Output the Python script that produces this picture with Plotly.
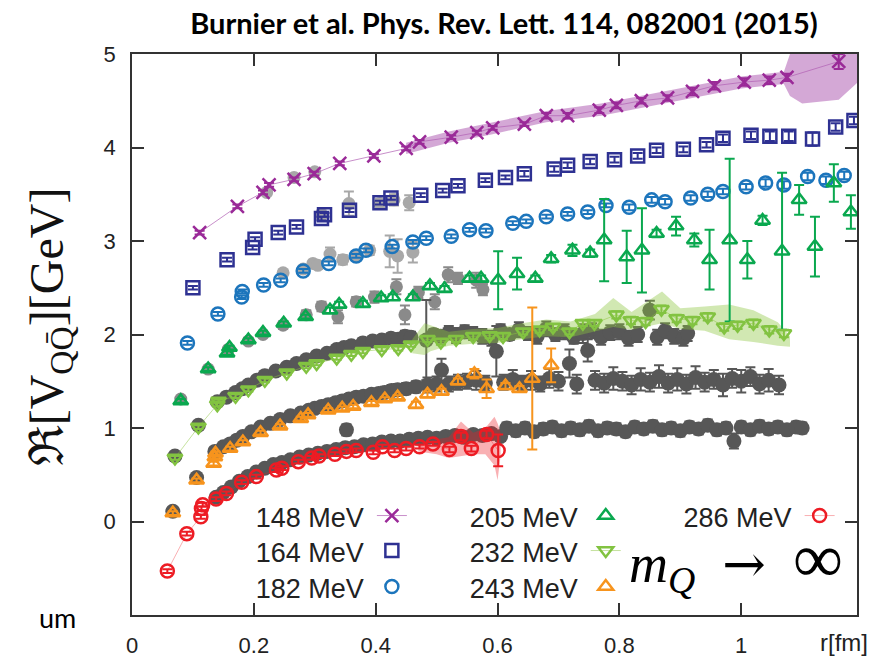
import plotly.graph_objects as go

# ---------------- data ----------------
labels = ["148 MeV", "164 MeV", "182 MeV", "205 MeV", "232 MeV", "243 MeV", "286 MeV"]

r148 = [0.111,0.173,0.215,0.225,0.266,0.299,0.341,0.397,0.450,0.472,0.524,0.566,0.592,0.644,0.680,0.715,0.767,0.795,0.836,0.879,0.920,0.956,1.005,1.046,1.075,1.160]
v148 = [3.09,3.37,3.52,3.60,3.66,3.72,3.83,3.91,3.99,4.06,4.11,4.16,4.21,4.25,4.34,4.34,4.40,4.45,4.50,4.53,4.60,4.66,4.70,4.72,4.75,4.92]
e148 = [0.02,0.02,0.02,0.02,0.02,0.02,0.02,0.02,0.02,0.02,0.02,0.02,0.02,0.02,0.03,0.03,0.03,0.03,0.03,0.03,0.04,0.04,0.04,0.04,0.04,0.08]

r164 = [0.100,0.156,0.198,0.202,0.240,0.270,0.311,0.316,0.357,0.407,0.425,0.474,0.510,0.535,0.580,0.613,0.644,0.693,0.715,0.752,0.792,0.830,0.861,0.905,0.943,0.970,1.016,1.047,1.078,1.117,1.155,1.185]
v164 = [2.50,2.80,2.93,3.02,3.09,3.15,3.24,3.28,3.33,3.41,3.46,3.49,3.54,3.59,3.65,3.68,3.72,3.77,3.81,3.85,3.87,3.91,3.97,3.98,4.03,4.10,4.13,4.12,4.12,4.09,4.22,4.29]
e164 = [0.02,0.02,0.02,0.02,0.02,0.02,0.02,0.02,0.02,0.02,0.02,0.02,0.02,0.02,0.02,0.02,0.03,0.03,0.03,0.03,0.03,0.03,0.03,0.03,0.03,0.04,0.04,0.05,0.05,0.07,0.04,0.04]

r182 = [0.091,0.141,0.180,0.181,0.216,0.244,0.281,0.323,0.368,0.384,0.427,0.461,0.483,0.524,0.554,0.581,0.625,0.647,0.680,0.715,0.748,0.778,0.816,0.853,0.875,0.917,0.945,0.970,1.008,1.040,1.070,1.109,1.139,1.169]
v182 = [1.91,2.22,2.40,2.46,2.53,2.58,2.68,2.76,2.84,2.90,2.94,2.99,3.03,3.05,3.12,3.11,3.19,3.21,3.26,3.29,3.31,3.38,3.36,3.44,3.42,3.46,3.50,3.53,3.58,3.62,3.60,3.69,3.65,3.70]
e182 = [0.02,0.02,0.02,0.02,0.02,0.02,0.02,0.02,0.02,0.02,0.02,0.02,0.02,0.02,0.02,0.02,0.02,0.02,0.02,0.02,0.02,0.02,0.03,0.03,0.03,0.03,0.03,0.03,0.03,0.04,0.04,0.04,0.04,0.04]

r205 = [0.080,0.125,0.156,0.160,0.191,0.215,0.249,0.285,0.325,0.340,0.379,0.409,0.428,0.461,0.489,0.513,0.554,0.573,0.601,0.632,0.662,0.688,0.723,0.752,0.775,0.812,0.837,0.861,0.893,0.923,0.948,0.981,1.010,1.035,1.067,1.095,1.121,1.152,1.180]
v205 = [1.29,1.63,1.80,1.86,1.94,2.02,2.12,2.19,2.26,2.32,2.33,2.39,2.40,2.40,2.52,2.49,2.60,2.60,2.58,2.65,2.60,2.81,2.90,2.87,3.01,2.83,2.90,3.08,3.16,3.01,2.80,3.01,2.80,3.22,2.89,3.44,2.94,3.62,3.31]
e205 = [0.02,0.02,0.02,0.02,0.02,0.02,0.02,0.02,0.03,0.03,0.03,0.03,0.03,0.03,0.03,0.03,0.03,0.03,0.31,0.17,0.03,0.04,0.06,0.04,0.44,0.28,0.45,0.04,0.10,0.07,0.32,0.87,0.20,0.05,0.84,0.16,0.32,0.20,0.18]

r232 = [0.0705,0.109,0.140,0.142,0.170,0.191,0.218,0.254,0.286,0.303,0.336,0.360,0.379,0.410,0.437,0.458,0.485,0.507,0.532,0.560,0.587,0.609,0.642,0.669,0.691,0.718,0.740,0.759,0.795,0.819,0.843,0.869,0.894,0.920,0.945,0.972,0.994,1.020,1.046,1.070]
v232 = [0.68,1.01,1.25,1.29,1.34,1.41,1.51,1.59,1.66,1.69,1.75,1.79,1.82,1.84,1.85,1.89,1.95,1.92,1.95,1.98,1.99,1.98,2.03,2.05,2.08,2.03,2.12,2.12,2.21,2.15,2.14,2.27,2.17,2.15,2.19,2.08,2.10,2.12,2.05,2.01]
e232 = [0.02,0.02,0.02,0.02,0.02,0.02,0.02,0.02,0.02,0.02,0.02,0.02,0.02,0.02,0.02,0.02,0.03,0.03,0.03,0.03,0.03,0.03,0.03,0.03,0.03,0.03,0.03,0.03,0.04,0.04,0.04,0.04,0.04,0.04,0.04,0.04,0.04,0.04,0.04,0.04]

r243 = [0.067,0.106,0.134,0.136,0.137,0.161,0.182,0.211,0.243,0.277,0.289,0.322,0.345,0.363,0.393,0.415,0.436,0.466,0.485,0.508,0.535,0.562,0.582,0.613,0.636,0.657,0.688]
v243 = [0.09,0.44,0.62,0.69,0.73,0.78,0.85,0.95,1.02,1.10,1.14,1.19,1.21,1.23,1.27,1.31,1.33,1.25,1.36,1.39,1.50,1.58,1.42,1.45,1.42,1.53,1.67]
e243 = [0.02,0.02,0.02,0.02,0.02,0.02,0.02,0.02,0.02,0.02,0.02,0.02,0.02,0.02,0.02,0.02,0.02,0.03,0.03,0.03,0.03,0.05,0.10,0.03,0.03,0.76,0.18]

r286 = [0.058,0.090,0.113,0.114,0.116,0.138,0.155,0.180,0.204,0.237,0.246,0.273,0.295,0.307,0.333,0.352,0.368,0.396,0.411,0.431,0.450,0.472,0.494,0.521,0.540,0.557,0.582,0.601]
v286 = [-0.53,-0.13,0.05,0.14,0.18,0.24,0.30,0.42,0.48,0.55,0.57,0.64,0.68,0.70,0.72,0.75,0.76,0.74,0.80,0.76,0.78,0.80,0.83,0.77,0.91,0.78,0.93,0.76]
e286 = [0.02,0.02,0.02,0.02,0.02,0.02,0.02,0.02,0.02,0.02,0.02,0.02,0.02,0.02,0.02,0.02,0.02,0.02,0.02,0.02,0.02,0.02,0.02,0.03,0.04,0.03,0.04,0.17]

# uncertainty bands
b148_r  = [0.45,0.52,0.59,0.68,0.77,0.84,0.92,1.00,1.07,1.08,1.10,1.16,1.19]
b148_lo = [3.93,4.05,4.14,4.27,4.34,4.43,4.53,4.63,4.68,4.55,4.47,4.51,4.69]
b148_hi = [4.05,4.17,4.27,4.39,4.47,4.56,4.66,4.76,4.81,5.00,5.05,5.05,5.05]

b232_r  = [0.46,0.48,0.49,0.52,0.56,0.60,0.64,0.68,0.72,0.76,0.79,0.82,0.87,0.90,0.94,0.98,1.02,1.06,1.08]
b232_lo = [1.80,1.78,1.82,1.88,1.90,1.91,1.95,1.98,1.97,2.03,2.08,2.05,2.12,2.06,2.04,1.95,1.92,1.88,1.87]
b232_hi = [1.95,2.12,2.10,2.03,2.06,2.07,2.12,2.16,2.14,2.22,2.39,2.24,2.46,2.28,2.30,2.32,2.26,2.13,1.98]

b286_r  = [0.47,0.50,0.52,0.54,0.56,0.58,0.595,0.60,0.605]
b286_lo = [0.75,0.72,0.68,0.70,0.72,0.72,0.60,0.44,0.70]
b286_hi = [0.84,0.88,0.90,1.07,0.95,1.00,1.12,1.05,0.95]

# grey comparison data
gA_r = [0.221,0.266,0.300,0.311,0.356,0.407,0.430,0.455]
gA_v = [3.52,3.68,3.74,3.28,3.40,3.40,3.44,3.41]
gA_e = [0.03,0.03,0.03,0.05,0.13,0.05,0.06,0.08]

gB_r = [0.248,0.281,0.297,0.305,0.325,0.346,0.368,0.390,0.423,0.436,0.461]
gB_v = [2.66,2.70,2.76,2.74,2.86,2.80,2.84,2.90,2.89,2.84,2.88]
gB_e = [0.03,0.03,0.03,0.04,0.07,0.05,0.05,0.05,0.17,0.18,0.11]

gC_r = [0.080,0.125,0.158,0.191,0.215,0.248,0.286,0.311,0.338,0.368,0.398,0.434,0.448,0.470,0.497,0.519,0.535,0.565,0.576]
gC_v = [1.31,1.63,1.84,1.93,2.00,2.10,2.21,2.30,2.19,2.35,2.40,2.51,2.21,2.45,2.35,2.64,2.60,2.58,2.48]
gC_e = [0.02,0.02,0.03,0.03,0.03,0.04,0.05,0.05,0.07,0.05,0.06,0.08,0.10,0.06,0.08,0.08,0.06,0.08,0.06]

gD_r = [0.0705,0.109,0.140,0.155,0.170,0.181,0.191,0.205,0.218,0.236,
        0.254,0.270,0.286,0.303,0.320,0.336,0.348,0.360,0.379,0.395,
        0.410,0.425,0.437,0.448,0.458,0.483,0.495,0.507,0.520,0.532,
        0.546,0.560,0.575,0.590,0.605,0.620,0.635,0.650,0.665,0.680,
        0.695,0.710,0.725,0.740,0.755,0.770,0.785,0.800,0.815,0.830,
        0.850,0.862,0.875,0.890,0.905,0.912]
gD_v = [0.70,1.03,1.28,1.33,1.38,1.42,1.46,1.51,1.56,1.61,
        1.65,1.69,1.73,1.77,1.80,1.84,1.86,1.88,1.91,1.93,
        1.94,1.96,1.95,1.98,1.97,1.94,2.00,1.98,2.02,1.99,
        2.03,2.01,1.98,1.96,2.04,2.00,2.05,2.01,1.98,2.06,
        2.00,2.03,1.97,2.01,2.04,1.97,2.02,2.03,1.96,2.00,
        2.26,1.97,2.04,1.98,1.96,2.01]
gD_e = [0.02,0.02,0.02,0.02,0.02,0.02,0.03,0.03,0.03,0.03,
        0.03,0.03,0.03,0.04,0.04,0.04,0.04,0.05,0.05,0.05,
        0.05,0.05,0.06,0.06,0.06,0.43,0.06,0.06,0.07,0.08,
        0.07,0.07,0.08,0.08,0.07,0.06,0.08,0.07,0.08,0.08,
        0.07,0.08,0.07,0.10,0.08,0.08,0.08,0.08,0.08,0.08,
        0.10,0.08,0.08,0.08,0.08,0.08]

gE_r = [0.067,0.106,0.136,0.150,0.161,0.172,0.182,0.196,0.211,0.227,
        0.243,0.260,0.277,0.290,0.300,0.311,0.322,0.334,0.345,0.356,
        0.368,0.380,0.393,0.405,0.415,0.426,0.436,0.450,0.466,0.485,
        0.500,0.508,0.520,0.535,0.550,0.565,0.580,0.598,0.610,0.625,
        0.640,0.655,0.670,0.685,0.700,0.718,0.730,0.748,0.760,0.775,
        0.790,0.805,0.820,0.835,0.850,0.865,0.880,0.895,0.910,0.925,
        0.940,0.955,0.970,0.985,1.000,1.015,1.030,1.045,1.062]
gE_v = [0.11,0.47,0.75,0.80,0.83,0.87,0.91,0.96,1.01,1.05,
        1.09,1.13,1.16,1.19,1.21,1.23,1.25,1.27,1.29,1.31,
        1.33,1.34,1.36,1.37,1.38,1.40,1.41,1.42,1.44,1.46,
        1.47,1.62,1.47,1.49,1.50,1.51,1.48,1.82,1.49,1.52,
        1.48,1.51,1.47,1.53,1.50,1.69,1.47,1.83,1.51,1.48,
        1.53,1.50,1.46,1.52,1.49,1.55,1.48,1.52,1.47,1.54,
        1.49,1.52,1.46,1.53,1.50,1.55,1.47,1.51,1.46]
gE_e = [0.02,0.02,0.03,0.03,0.03,0.03,0.03,0.03,0.03,0.04,
        0.04,0.04,0.04,0.04,0.04,0.05,0.05,0.05,0.05,0.05,
        0.05,0.05,0.05,0.05,0.06,0.06,0.06,0.06,0.06,0.08,
        0.08,0.12,0.08,0.08,0.08,0.10,0.08,0.27,0.08,0.10,
        0.08,0.10,0.08,0.10,0.10,0.15,0.10,0.12,0.10,0.10,
        0.12,0.10,0.10,0.12,0.10,0.12,0.10,0.12,0.10,0.12,
        0.10,0.10,0.12,0.10,0.12,0.10,0.10,0.12,0.10]

gF_r = [0.138,0.150,0.163,0.176,0.190,0.204,0.218,0.232,0.246,0.260,
        0.275,0.290,0.305,0.320,0.335,0.350,0.352,0.365,0.380,0.395,
        0.410,0.425,0.440,0.455,0.470,0.485,0.500,0.515,0.530,0.545,
        0.560,0.575,0.590,0.605,0.615,0.630,0.645,0.660,0.675,0.690,
        0.705,0.720,0.735,0.750,0.765,0.780,0.795,0.810,0.825,0.840,
        0.855,0.870,0.885,0.900,0.915,0.930,0.945,0.960,0.975,0.988,
        1.000,1.015,1.030,1.045,1.060,1.075,1.090,1.100]
gF_v = [0.26,0.31,0.37,0.43,0.48,0.53,0.57,0.61,0.63,0.66,
        0.69,0.71,0.73,0.75,0.77,0.79,0.98,0.80,0.82,0.83,
        0.85,0.86,0.86,0.88,0.89,0.90,0.89,0.91,0.92,0.90,
        0.93,0.92,0.94,0.91,1.00,0.97,1.00,0.96,0.99,1.01,
        0.97,1.00,0.98,1.02,0.97,1.00,0.99,0.96,1.01,0.99,
        1.02,0.98,1.00,0.97,1.01,0.99,1.03,0.98,1.00,0.86,
        1.01,0.98,1.02,0.99,1.01,0.98,1.01,1.00]
gF_e = [0.02,0.02,0.02,0.03,0.03,0.03,0.03,0.03,0.03,0.03,
        0.04,0.04,0.04,0.04,0.04,0.04,0.06,0.04,0.04,0.04,
        0.05,0.05,0.05,0.05,0.05,0.05,0.05,0.05,0.05,0.05,
        0.05,0.05,0.05,0.05,0.06,0.06,0.06,0.06,0.06,0.06,
        0.06,0.06,0.06,0.06,0.06,0.06,0.06,0.06,0.06,0.06,
        0.06,0.06,0.06,0.06,0.06,0.06,0.06,0.06,0.06,0.08,
        0.06,0.06,0.06,0.06,0.06,0.06,0.06,0.06]

x_ticks = [0, 0.2, 0.4, 0.6, 0.8, 1]
x_tick_text = ["0", "0.2", "0.4", "0.6", "0.8", "1"]
y_ticks = [0, 1, 2, 3, 4, 5]

# ---------------- figure ----------------
fig = go.Figure()

GREY_L = "#a8a8a8"
GREY_M = "#8a8a8a"
GREY_D = "#575757"

def grey(r, v, e, col, size):
    fig.add_trace(go.Scatter(
        x=r, y=v, mode="markers", showlegend=False, hoverinfo="skip",
        marker=dict(symbol="circle", size=size, color=col),
        error_y=dict(type="data", array=e, color=col, thickness=2, width=5)))

grey(gA_r, gA_v, gA_e, GREY_L, 13)
grey(gB_r, gB_v, gB_e, GREY_L, 13)
grey(gC_r, gC_v, gC_e, GREY_M, 13)
grey(gD_r, gD_v, gD_e, GREY_D, 15)
grey(gE_r, gE_v, gE_e, GREY_D, 15)
grey(gF_r, gF_v, gF_e, GREY_D, 15)

def band(r, lo, hi, fill):
    fig.add_trace(go.Scatter(
        x=list(r) + list(r)[::-1], y=list(lo) + list(hi)[::-1],
        mode="lines", fill="toself", fillcolor=fill, line=dict(width=0),
        showlegend=False, hoverinfo="skip"))

band(b148_r, b148_lo, b148_hi, "rgba(176,96,180,0.55)")
band(b232_r, b232_lo, b232_hi, "rgba(141,198,63,0.40)")
band(b286_r, b286_lo, b286_hi, "rgba(237,28,36,0.35)")

series = [
    (r148, v148, e148, "#9a2a98", "x-thin", "lines+markers", "rgba(176,96,180,0.7)"),
    (r164, v164, e164, "#2e3192", "square-open", "markers", None),
    (r182, v182, e182, "#1c75bc", "circle-open", "markers", None),
    (r205, v205, e205, "#0aa84f", "triangle-up-open", "markers", None),
    (r232, v232, e232, "#82c341", "triangle-down-open", "lines+markers", "rgba(141,198,63,0.5)"),
    (r243, v243, e243, "#f7941d", "triangle-up-open", "markers", None),
    (r286, v286, e286, "#ed1c24", "circle-open", "lines+markers", "rgba(237,28,36,0.35)"),
]
legend_ids = ["legend", "legend2", "legend3", "legend4", "legend5", "legend6", "legend7"]
for i, (r, v, e, col, sym, mode, lcol) in enumerate(series):
    fig.add_trace(go.Scatter(
        x=r, y=v, name="", mode=mode, legend=legend_ids[i],
        hovertext=labels[i],
        line=dict(color=lcol if lcol else col, width=1),
        marker=dict(symbol=sym, size=13, color=col, line=dict(color=col, width=2.5)),
        error_y=dict(type="data", array=e, color=col, thickness=2, width=5)))

axis_common = dict(showline=True, linecolor="#333333", linewidth=1.5, mirror="ticks",
                   ticks="inside", ticklen=12, tickwidth=1.5, tickcolor="#333333",
                   showgrid=False, zeroline=False, ticklabelstandoff=10,
                   tickfont=dict(family="Liberation Sans", size=22, color="#222222"))

fig.update_xaxes(range=[0, 1.19], tickvals=x_ticks, ticktext=x_tick_text, **axis_common)
fig.update_yaxes(range=[-1, 5], tickvals=y_ticks, **axis_common)

# legend layout: three columns, label text (legend title) left of the symbol
col_x = [0.168, 0.168, 0.168, 0.463, 0.463, 0.463, 0.758]
row_y = [0.1765, 0.1141, 0.0499, 0.1765, 0.1141, 0.0499, 0.1765]
legends = {}
for i, lid in enumerate(legend_ids):
    legends[lid] = dict(
        x=col_x[i], y=row_y[i], xanchor="left", yanchor="middle",
        bgcolor="rgba(0,0,0,0)", itemwidth=30, orientation="h",
        title=dict(text=labels[i], side="left",
                   font=dict(family="Liberation Sans", size=27, color="#222222")),
        font=dict(family="Liberation Sans", size=27, color="#222222"))

# the page body adds an 8px offset, so the figure is 8px smaller on each side
fig.update_layout(
    width=886, height=652,
    margin=dict(l=124, r=37, t=46, b=45, autoexpand=False),
    paper_bgcolor="white", plot_bgcolor="white",
    title=dict(text="<b>Burnier et al. Phys. Rev. Lett. 114, 082001 (2015)</b>",
               x=496 / 886, xanchor="center", y=1 - 5.6 / 652, yanchor="top",
               font=dict(family="Lato", size=29, color="black")),
    **legends,
)

fig.add_annotation(text="ℜ[V<sub>QQ̄</sub>][GeV]", xref="paper", yref="paper",
                   x=-0.113, y=0.513, xanchor="center", yanchor="middle",
                   textangle=-90, showarrow=False,
                   font=dict(family="Liberation Serif", size=48, color="#111111"))
fig.add_annotation(text="r[fm]", xref="paper", yref="paper", x=1.018, y=-0.049,
                   xanchor="right", yanchor="middle", showarrow=False,
                   font=dict(family="Liberation Sans", size=24, color="#222222"))
fig.add_annotation(text="um", xref="paper", yref="paper", x=-0.103, y=-0.005,
                   xanchor="center", yanchor="middle",
                   showarrow=False, font=dict(family="Lato", size=27, color="black"))
fig.add_annotation(text="<i>m</i><sub><i>Q</i></sub>\u2002<span style=\"font-family:'DejaVu Serif';font-size:52px\">→</span>\u2002<span style=\"font-size:70px\">∞</span>",
                   xref="paper", yref="paper", x=0.683, y=0.098,
                   xanchor="left", yanchor="middle", showarrow=False,
                   font=dict(family="Liberation Serif", size=54, color="black"))

fig.write_html("out.html")
